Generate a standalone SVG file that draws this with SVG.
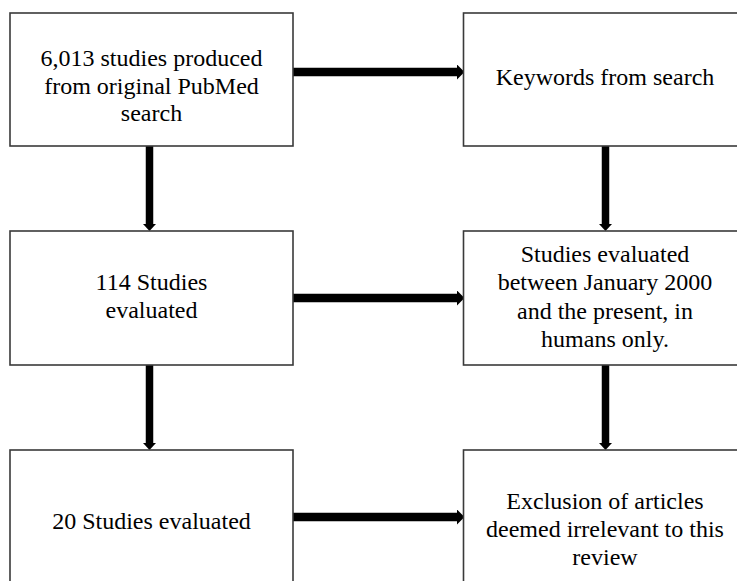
<svg xmlns="http://www.w3.org/2000/svg" width="737" height="581" viewBox="0 0 737 581">
  <style>
    .box { fill: #ffffff; stroke: #3a3a3a; stroke-width: 1.6; }
    .lbl { font-family: "Liberation Serif", "Times New Roman", serif; font-size: 24px; fill: #000000; text-anchor: middle; }
    .h { stroke: #000000; stroke-width: 8.5; fill: none; }
    .v { stroke: #000000; stroke-width: 7.5; fill: none; }
  </style>
  <defs>
    <marker id="ah" markerUnits="userSpaceOnUse" viewBox="0 0 8 16" markerWidth="8" markerHeight="16" refX="0.5" refY="8" orient="auto">
      <path d="M0,0 L8,8 L0,16 z" fill="#000000"/>
    </marker>
    <marker id="av" markerUnits="userSpaceOnUse" viewBox="0 0 7 13" markerWidth="7" markerHeight="13" refX="0.5" refY="6.5" orient="auto">
      <path d="M0,0 L7,6.5 L0,13 z" fill="#000000"/>
    </marker>
  </defs>
  <rect width="737" height="581" fill="#ffffff"/>

  <g id="connectors">
    <line class="h" x1="293" y1="72" x2="457" y2="72" marker-end="url(#ah)"/>
    <line class="h" x1="293" y1="298" x2="457" y2="298" marker-end="url(#ah)"/>
    <line class="h" x1="293" y1="517" x2="457" y2="517" marker-end="url(#ah)"/>
    <line class="v" x1="149.5" y1="146" x2="149.5" y2="224.5" marker-end="url(#av)"/>
    <line class="v" x1="149.5" y1="365" x2="149.5" y2="443.5" marker-end="url(#av)"/>
    <line class="v" x1="605.5" y1="146" x2="605.5" y2="224.5" marker-end="url(#av)"/>
    <line class="v" x1="605.5" y1="365" x2="605.5" y2="443.5" marker-end="url(#av)"/>
  </g>

  <g id="n1">
    <rect class="box" x="10" y="13" width="283" height="133"/>
    <text class="lbl" x="151.5" y="66">6,013 studies produced</text>
    <text class="lbl" x="151.5" y="94">from original PubMed</text>
    <text class="lbl" x="151.5" y="121">search</text>
  </g>
  <g id="n2">
    <rect class="box" x="463.5" y="13" width="283" height="133"/>
    <text class="lbl" x="605" y="85">Keywords from search</text>
  </g>
  <g id="n3">
    <rect class="box" x="10" y="231" width="283" height="134"/>
    <text class="lbl" x="151.5" y="290">114 Studies</text>
    <text class="lbl" x="151.5" y="318">evaluated</text>
  </g>
  <g id="n4">
    <rect class="box" x="463.5" y="231" width="283" height="134"/>
    <text class="lbl" x="605" y="262">Studies evaluated</text>
    <text class="lbl" x="605" y="290">between January 2000</text>
    <text class="lbl" x="605" y="319">and the present, in</text>
    <text class="lbl" x="605" y="347">humans only.</text>
  </g>
  <g id="n5">
    <rect class="box" x="10" y="450" width="283" height="140"/>
    <text class="lbl" x="151.5" y="529">20 Studies evaluated</text>
  </g>
  <g id="n6">
    <rect class="box" x="463.5" y="450" width="283" height="140"/>
    <text class="lbl" x="605" y="509">Exclusion of articles</text>
    <text class="lbl" x="605" y="537">deemed irrelevant to this</text>
    <text class="lbl" x="605" y="565">review</text>
  </g>
</svg>
